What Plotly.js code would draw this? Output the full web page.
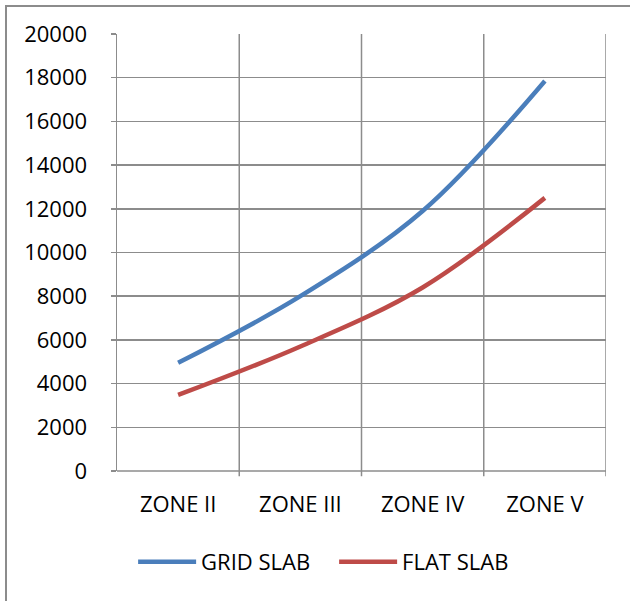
<!DOCTYPE html>
<html>
<head>
<meta charset="utf-8">
<script src="https://cdn.plot.ly/plotly-3.0.1.min.js"></script>
<style>
html,body{margin:0;padding:0;background:#fff;}
#frame{position:absolute;left:5px;top:5px;width:640px;height:620px;border-left:2px solid #8c8c8c;border-top:2px solid #8c8c8c;box-sizing:border-box;}
#chart{position:absolute;left:0;top:0;width:630px;height:601px;}
</style>
</head>
<body>
<div id="frame"></div>
<div id="chart"></div>
<script>
var categories = ["ZONE II", "ZONE III", "ZONE IV", "ZONE V"];
var gridSlab = [4950, 8000, 11900, 17850];
var flatSlab = [3480, 5700, 8400, 12500];
var yTicks = [0, 2000, 4000, 6000, 8000, 10000, 12000, 14000, 16000, 18000, 20000];

var font = {family: "Open Sans, sans-serif", size: 22, color: "#000"};

var traces = [
  {x: [0,1,2,3], y: gridSlab, name: "GRID SLAB", type: "scatter", mode: "lines",
   line: {color: "#4a7ebb", width: 4.5, shape: "spline", smoothing: 1}},
  {x: [0,1,2,3], y: flatSlab, name: "FLAT SLAB", type: "scatter", mode: "lines",
   line: {color: "#be4b48", width: 4.5, shape: "spline", smoothing: 1}}
];

var layout = {
  width: 630, height: 601,
  margin: {l: 117, r: 24, t: 34, b: 130, autoexpand: false},
  paper_bgcolor: "rgba(0,0,0,0)",
  plot_bgcolor: "#fff",
  font: font,
  showlegend: true,
  legend: {orientation: "h", x: 0.444, xanchor: "center", y: -0.208, yanchor: "middle",
           font: font, itemwidth: 58, traceorder: "normal", entrywidth: 128},
  xaxis: {
    range: [-0.5, 3.5], tickvals: [0,1,2,3], ticktext: categories,
    showgrid: false, zeroline: false, ticks: "", ticklabelstandoff: 18,
    showline: false, fixedrange: true
  },
  yaxis: {
    range: [0, 20000], tickvals: yTicks, ticktext: yTicks.map(String),
    showgrid: true, gridcolor: "#8c8c8c", gridwidth: 1.5, zeroline: false,
    showline: true, linecolor: "#8c8c8c", linewidth: 1.5,
    ticks: "outside", ticklen: 5, tickcolor: "#8c8c8c", tickwidth: 1.5,
    ticklabelstandoff: 19, fixedrange: true
  },
  shapes: [0.5, 1.5, 2.5, 3.5].map(function(v){
    return {type: "line", xref: "x", yref: "paper", x0: v, x1: v, y0: 0, y1: 1,
            line: {color: "#8c8c8c", width: 1.5}, layer: "below"};
  }).concat([
    {type: "line", xref: "paper", yref: "paper", x0: 0, x1: 1, y0: 0, y1: 0,
     line: {color: "#8c8c8c", width: 1.5}, layer: "below"},
    {type: "line", xref: "x", yref: "paper", x0: 0.5, x1: 0.5, y0: 0, y1: -0.012,
     line: {color: "#8c8c8c", width: 1.5}},
    {type: "line", xref: "x", yref: "paper", x0: 1.5, x1: 1.5, y0: 0, y1: -0.012,
     line: {color: "#8c8c8c", width: 1.5}},
    {type: "line", xref: "x", yref: "paper", x0: 2.5, x1: 2.5, y0: 0, y1: -0.012,
     line: {color: "#8c8c8c", width: 1.5}},
    {type: "line", xref: "x", yref: "paper", x0: 3.5, x1: 3.5, y0: 0, y1: -0.012,
     line: {color: "#8c8c8c", width: 1.5}}
  ])
};

Plotly.newPlot("chart", traces, layout, {displayModeBar: false, staticPlot: true});
</script>
</body>
</html>
